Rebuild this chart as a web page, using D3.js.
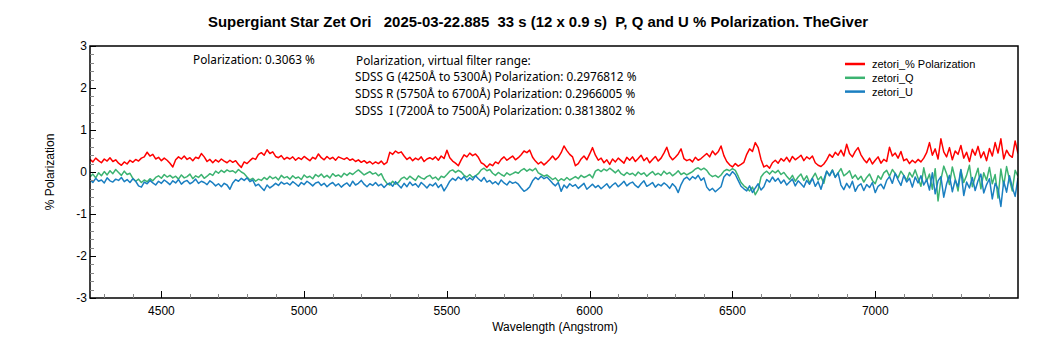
<!DOCTYPE html>
<html>
<head>
<meta charset="utf-8">
<script src="https://cdn.jsdelivr.net/npm/d3@7"></script>
<style>
  html, body { margin: 0; padding: 0; background: #fff; }
  svg { display: block; }
  text { white-space: pre; }
</style>
</head>
<body>
<svg id="chart" width="1050" height="350"></svg>
<script>
// ---------- data ----------
const titleText = "Supergiant Star Zet Ori   2025-03-22.885  33 s (12 x 0.9 s)  P, Q and U % Polarization. TheGiver";
const xLabel = "Wavelength (Angstrom)";
const yLabel = "% Polarization";
const seriesNames = ["zetori_% Polarization", "zetori_Q", "zetori_U"];
const seriesColors = ["#ff0000", "#3cb371", "#1a7fc1"];
const annotationLeft = "Polarization: 0.3063 %";
const annotationLines = [
  "Polarization, virtual filter range:",
  "SDSS G (4250Å to 5300Å) Polarization: 0.2976812 %",
  "SDSS R (5750Å to 6700Å) Polarization: 0.2966005 %",
  "SDSS  I (7200Å to 7500Å) Polarization: 0.3813802 %"
];
const xDomain = [4250, 7500];
const yDomain = [-3, 3];
const xTicks = [4500, 5000, 5500, 6000, 6500, 7000];
const yTicks = [-3, -2, -1, 0, 1, 2, 3];
const wavelengthStart = 4250;   // sampling grid of the spectrum (Å)
const wavelengthStep = 10;

const polarization = [
  0.30,0.24,0.33,0.27,0.22,0.31,0.26,0.34,0.25,0.29,
  0.21,0.16,0.24,0.19,0.28,0.23,0.30,0.26,0.33,0.36,
  0.47,0.38,0.42,0.31,0.35,0.27,0.33,0.28,0.21,0.12,
  0.29,0.36,0.31,0.38,0.30,0.34,0.27,0.35,0.32,0.44,
  0.36,0.25,0.30,0.22,0.29,0.24,0.31,0.26,0.22,0.28,
  0.23,0.27,0.18,0.11,0.24,0.20,0.27,0.33,0.30,0.42,
  0.46,0.40,0.53,0.44,0.48,0.37,0.34,0.39,0.30,0.35,
  0.31,0.36,0.28,0.34,0.30,0.37,0.32,0.27,0.35,0.31,
  0.43,0.34,0.29,0.37,0.31,0.35,0.28,0.36,0.33,0.30,
  0.34,0.28,0.31,0.25,0.29,0.23,0.27,0.21,0.25,0.19,
  0.24,0.20,0.26,0.18,0.23,0.47,0.42,0.50,0.45,0.48,
  0.38,0.30,0.35,0.27,0.33,0.29,0.36,0.25,0.31,0.34,
  0.30,0.36,0.28,0.38,0.32,0.52,0.34,0.26,0.21,0.15,
  0.29,0.41,0.36,0.45,0.39,0.43,0.35,0.22,0.18,0.11,
  0.19,0.15,0.24,0.20,0.30,0.36,0.28,0.33,0.38,0.29,
  0.34,0.41,0.50,0.46,0.52,0.35,0.26,0.19,0.24,0.17,
  0.23,0.30,0.38,0.29,0.35,0.46,0.62,0.51,0.42,0.36,
  0.15,0.20,0.31,0.38,0.29,0.43,0.58,0.40,0.28,0.33,
  0.22,0.29,0.18,0.31,0.24,0.33,0.27,0.21,0.35,0.28,
  0.36,0.25,0.32,0.40,0.27,0.34,0.22,0.30,0.37,0.26,
  0.33,0.45,0.59,0.38,0.29,0.35,0.43,0.55,0.32,0.27,
  0.30,0.24,0.35,0.28,0.32,0.38,0.44,0.36,0.50,0.41,
  0.48,0.62,0.39,0.25,0.17,0.12,0.20,0.14,0.18,0.23,
  0.42,0.55,0.49,0.70,0.58,0.30,0.12,0.16,0.09,0.22,
  0.28,0.21,0.32,0.26,0.35,0.24,0.37,0.29,0.34,0.40,
  0.27,0.36,0.31,0.38,0.22,0.16,0.13,0.19,0.29,0.42,
  0.35,0.47,0.40,0.52,0.38,0.66,0.44,0.36,0.49,0.58,
  0.41,0.30,0.22,0.33,0.19,0.28,0.36,0.21,0.30,0.25,
  0.59,0.38,0.45,0.33,0.49,0.27,0.31,0.20,0.28,0.22,
  0.30,0.24,0.33,0.46,0.70,0.40,0.55,0.31,0.79,0.48,
  0.36,0.58,0.29,0.50,0.42,0.63,0.33,0.47,0.25,0.54,
  0.40,0.61,0.34,0.48,0.27,0.56,0.38,0.70,0.45,0.79,
  0.31,0.52,0.40,0.35,0.74,0.44
];

const qValues = [
  -0.12,-0.05,-0.14,-0.02,-0.09,0.01,-0.07,0.03,-0.04,0.06,
  -0.01,-0.08,0.02,-0.06,-0.03,-0.15,-0.22,-0.17,-0.25,-0.19,
  -0.23,-0.16,-0.21,-0.13,-0.09,-0.15,-0.06,-0.12,-0.08,-0.14,
  -0.10,-0.17,-0.07,-0.14,-0.11,-0.05,-0.16,-0.09,-0.13,-0.06,
  -0.15,-0.10,-0.04,-0.08,0.02,-0.03,0.04,-0.01,0.05,0.01,
  0.03,-0.02,0.06,0.00,-0.04,-0.12,-0.19,-0.15,-0.22,-0.17,
  -0.20,-0.13,-0.18,-0.10,-0.16,-0.12,-0.19,-0.08,-0.14,-0.11,
  -0.17,-0.09,-0.15,-0.12,-0.18,-0.07,-0.13,-0.10,-0.16,-0.06,
  -0.11,-0.05,-0.13,-0.08,-0.14,-0.04,-0.10,-0.07,-0.12,-0.03,
  -0.08,-0.02,-0.06,0.00,0.05,-0.01,-0.07,-0.03,0.01,-0.05,
  -0.02,-0.09,-0.04,-0.18,-0.27,-0.31,-0.22,-0.29,-0.25,-0.16,
  -0.12,-0.18,-0.10,-0.15,-0.20,-0.09,-0.14,-0.17,-0.11,-0.08,
  -0.16,-0.12,-0.19,-0.10,-0.13,-0.06,0.02,0.05,-0.01,0.04,
  0.00,-0.08,-0.12,-0.06,-0.13,-0.09,-0.04,0.05,0.09,0.03,
  0.06,-0.03,-0.08,-0.01,-0.06,-0.10,-0.02,-0.07,-0.04,0.00,
  -0.03,0.04,0.08,0.02,0.07,0.03,0.09,-0.02,-0.06,-0.10,
  -0.07,-0.12,-0.18,-0.14,-0.22,-0.16,-0.20,-0.13,-0.19,-0.15,
  -0.11,-0.16,-0.08,-0.13,-0.10,-0.06,-0.14,0.02,0.06,0.01,
  0.07,0.03,0.09,0.04,-0.02,0.05,-0.04,-0.08,-0.01,-0.06,
  -0.03,-0.09,0.00,-0.06,-0.02,-0.10,-0.04,0.01,-0.07,-0.03,
  -0.08,0.02,-0.05,-0.01,-0.09,-0.04,0.03,-0.06,-0.02,-0.07,
  -0.03,0.01,0.07,0.10,0.05,0.09,0.04,-0.06,-0.11,-0.08,
  -0.13,-0.07,0.02,0.06,0.03,0.08,0.04,-0.10,-0.25,-0.33,
  -0.38,-0.45,-0.36,-0.54,-0.42,-0.12,-0.03,0.02,-0.05,0.03,
  -0.02,0.04,-0.06,-0.01,-0.10,-0.18,-0.08,-0.22,-0.12,-0.05,
  -0.20,-0.09,-0.26,-0.14,-0.03,-0.19,-0.11,-0.27,0.02,-0.08,
  0.05,-0.12,-0.02,0.08,-0.09,-0.04,0.03,-0.15,-0.07,-0.18,
  -0.10,-0.24,-0.13,-0.05,-0.20,-0.28,-0.09,-0.17,-0.02,0.04,
  -0.10,0.06,-0.04,-0.14,0.02,-0.08,-0.20,-0.01,-0.12,0.05,
  -0.15,-0.34,0.10,-0.22,-0.05,-0.41,0.08,-0.69,-0.18,0.14,
  -0.04,-0.30,0.12,-0.16,-0.45,0.05,-0.25,-0.08,0.16,-0.35,
  -0.12,0.09,-0.40,-0.02,-0.20,0.11,-0.28,-0.06,-0.62,0.07,
  -0.33,0.13,-0.18,-0.45,0.04,-0.10
];

const uValues = [
  -0.18,-0.25,-0.15,-0.22,-0.19,-0.26,-0.14,-0.21,-0.24,-0.17,
  -0.20,-0.13,-0.23,-0.18,-0.25,-0.16,-0.22,-0.33,-0.36,-0.24,
  -0.28,-0.20,-0.26,-0.31,-0.22,-0.27,-0.19,-0.24,-0.30,-0.21,
  -0.26,-0.18,-0.29,-0.23,-0.20,-0.28,-0.24,-0.17,-0.27,-0.22,
  -0.25,-0.30,-0.21,-0.26,-0.33,-0.28,-0.35,-0.27,-0.31,-0.41,
  -0.26,-0.18,-0.22,-0.15,-0.20,-0.14,-0.23,-0.19,-0.33,-0.29,
  -0.37,-0.44,-0.31,-0.38,-0.33,-0.27,-0.32,-0.24,-0.29,-0.26,
  -0.31,-0.23,-0.28,-0.34,-0.25,-0.30,-0.22,-0.27,-0.33,-0.26,
  -0.24,-0.32,-0.27,-0.35,-0.29,-0.25,-0.33,-0.28,-0.36,-0.30,
  -0.26,-0.34,-0.22,-0.31,-0.27,-0.20,-0.29,-0.35,-0.28,-0.32,
  -0.25,-0.33,-0.29,-0.37,-0.30,-0.26,-0.34,-0.23,-0.31,-0.38,
  -0.27,-0.35,-0.24,-0.32,-0.28,-0.36,-0.25,-0.31,-0.38,-0.29,
  -0.33,-0.26,-0.37,-0.30,-0.45,-0.34,-0.22,-0.15,-0.20,-0.12,
  -0.18,-0.11,-0.21,-0.14,-0.19,-0.09,-0.16,-0.22,-0.13,-0.24,
  -0.20,-0.28,-0.23,-0.30,-0.19,-0.26,-0.31,-0.22,-0.27,-0.24,
  -0.29,-0.38,-0.46,-0.42,-0.35,-0.21,-0.13,-0.18,-0.10,-0.16,
  -0.12,-0.19,-0.27,-0.33,-0.25,-0.46,-0.31,-0.38,-0.28,-0.34,
  -0.30,-0.39,-0.33,-0.27,-0.41,-0.35,-0.29,-0.37,-0.32,-0.40,
  -0.34,-0.28,-0.38,-0.31,-0.26,-0.35,-0.29,-0.22,-0.33,-0.27,
  -0.24,-0.32,-0.37,-0.28,-0.21,-0.34,-0.30,-0.25,-0.36,-0.29,
  -0.33,-0.26,-0.31,-0.39,-0.28,-0.35,-0.49,-0.30,-0.17,-0.12,
  -0.19,-0.11,-0.16,-0.08,-0.20,-0.14,-0.36,-0.44,-0.39,-0.47,
  -0.41,-0.35,-0.12,-0.04,-0.09,0.01,-0.06,-0.20,-0.34,-0.40,
  -0.45,-0.33,-0.49,-0.38,-0.28,-0.43,-0.35,-0.18,-0.24,-0.12,
  -0.22,-0.15,-0.27,-0.19,-0.31,-0.24,-0.17,-0.33,-0.21,-0.28,
  -0.36,-0.20,-0.29,-0.15,-0.34,-0.23,-0.41,-0.18,0.02,-0.09,
  0.04,-0.13,-0.02,-0.31,-0.42,-0.27,-0.38,-0.22,-0.46,-0.33,
  -0.28,-0.44,-0.30,-0.37,-0.25,-0.49,-0.34,-0.29,-0.40,-0.20,
  -0.11,-0.27,-0.03,-0.19,-0.32,-0.08,-0.24,-0.15,-0.36,-0.12,
  -0.26,-0.09,-0.31,-0.18,-0.43,-0.02,-0.52,-0.21,-0.11,-0.60,
  -0.28,-0.08,-0.47,-0.19,-0.35,0.06,-0.56,-0.24,-0.38,-0.13,
  -0.44,-0.21,-0.05,-0.50,-0.30,-0.16,-0.64,-0.27,-0.40,-0.82,
  -0.22,-0.48,-0.09,-0.36,-0.58,-0.14
];

// ---------- layout ----------
const W = 1050, H = 350;
const margin = { left: 90, right: 32, top: 46, bottom: 52 };
const plotW = W - margin.left - margin.right;
const plotH = H - margin.top - margin.bottom;

const svg = d3.select("#chart");
const x = d3.scaleLinear().domain(xDomain).range([margin.left, margin.left + plotW]);
const y = d3.scaleLinear().domain(yDomain).range([margin.top + plotH, margin.top]);

const axisFont = "'Liberation Sans', Arial, sans-serif";

// title
svg.append("text")
  .attr("x", 208).attr("y", 27)
  .attr("font-family", "'Liberation Sans Narrow', 'Liberation Sans', Arial, sans-serif")
  .attr("font-weight", "bold").attr("font-size", 15)
  .attr("textLength", 660).attr("lengthAdjust", "spacingAndGlyphs")
  .attr("fill", "#000")
  .text(titleText);

// clip
svg.append("clipPath").attr("id", "plotclip")
  .append("rect").attr("x", margin.left).attr("y", margin.top)
  .attr("width", plotW).attr("height", plotH);

// series
const series = [polarization, qValues, uValues];
const line = d3.line()
  .x((d, i) => x(wavelengthStart + i * wavelengthStep))
  .y(d => y(d));
const gLines = svg.append("g").attr("clip-path", "url(#plotclip)");
series.forEach((s, k) => {
  gLines.append("path")
    .datum(s)
    .attr("fill", "none")
    .attr("stroke", seriesColors[k])
    .attr("stroke-width", 1.5)
    .attr("stroke-linejoin", "round")
    .attr("d", line);
});

// frame
svg.append("rect")
  .attr("x", margin.left).attr("y", margin.top)
  .attr("width", plotW).attr("height", plotH)
  .attr("fill", "none").attr("stroke", "#000").attr("stroke-width", 1.5);

// x axis ticks (inward)
const xMinor = d3.range(4300, 7500, 100).filter(v => !xTicks.includes(v));
const gx = svg.append("g").attr("stroke", "#000").attr("stroke-width", 1);
gx.selectAll("line.maj").data(xTicks).join("line")
  .attr("x1", d => Math.round(x(d)) + 0.5).attr("x2", d => Math.round(x(d)) + 0.5)
  .attr("y1", y(-3)).attr("y2", y(-3) - 7);
gx.selectAll("line.min").data(xMinor).join("line")
  .attr("x1", d => Math.round(x(d)) + 0.5).attr("x2", d => Math.round(x(d)) + 0.5)
  .attr("y1", y(-3)).attr("y2", y(-3) - 4)
  .attr("stroke", "#888");
svg.append("g").selectAll("text").data(xTicks).join("text")
  .attr("x", d => x(d)).attr("y", y(-3) + 17)
  .attr("text-anchor", "middle")
  .attr("font-family", axisFont).attr("font-size", 12)
  .text(d => d);

// y axis ticks (inward)
const yMinor = d3.range(-30, 30, 2).map(v => v / 10).filter(v => !yTicks.includes(v));
const gy = svg.append("g").attr("stroke", "#000").attr("stroke-width", 1);
gy.selectAll("line.maj").data(yTicks).join("line")
  .attr("x1", x(xDomain[0])).attr("x2", x(xDomain[0]) + 6)
  .attr("y1", d => Math.round(y(d)) + 0.5).attr("y2", d => Math.round(y(d)) + 0.5);
gy.selectAll("line.min").data(yMinor).join("line")
  .attr("x1", x(xDomain[0])).attr("x2", x(xDomain[0]) + 4)
  .attr("y1", d => Math.round(y(d)) + 0.5).attr("y2", d => Math.round(y(d)) + 0.5)
  .attr("stroke", "#888");
svg.append("g").selectAll("text").data(yTicks).join("text")
  .attr("x", margin.left - 3).attr("y", d => y(d) + 4)
  .attr("text-anchor", "end")
  .attr("font-family", axisFont).attr("font-size", 12)
  .text(d => d);

// axis titles
svg.append("text")
  .attr("x", 555).attr("y", 331)
  .attr("text-anchor", "middle")
  .attr("font-family", axisFont).attr("font-size", 12)
  .text(xLabel);
svg.append("text")
  .attr("transform", `translate(54, ${y(0)}) rotate(-90)`)
  .attr("text-anchor", "middle")
  .attr("font-family", axisFont).attr("font-size", 12)
  .text(yLabel);

// annotations
const annFont = "'Noto Sans', 'Open Sans', sans-serif";
svg.append("text")
  .attr("x", 193).attr("y", 64)
  .attr("font-family", annFont).attr("font-size", 11.8)
  .attr("fill", "#000")
  .text(annotationLeft);
svg.append("g").selectAll("text").data(annotationLines).join("text")
  .attr("x", (d, i) => i === 0 ? 356 : 355)
  .attr("y", (d, i) => 64.5 + i * 16.8)
  .attr("font-family", annFont).attr("font-size", 11.8)
  .attr("fill", "#000")
  .text(d => d);

// legend
const leg = svg.append("g");
seriesNames.forEach((name, k) => {
  const ly = 64 + k * 13.8;
  leg.append("line")
    .attr("x1", 845).attr("x2", 865).attr("y1", ly).attr("y2", ly)
    .attr("stroke", seriesColors[k]).attr("stroke-width", 2.5);
  leg.append("text")
    .attr("x", 872).attr("y", ly + 4)
    .attr("font-family", axisFont).attr("font-size", 11)
    .text(name);
});
</script>
</body>
</html>
